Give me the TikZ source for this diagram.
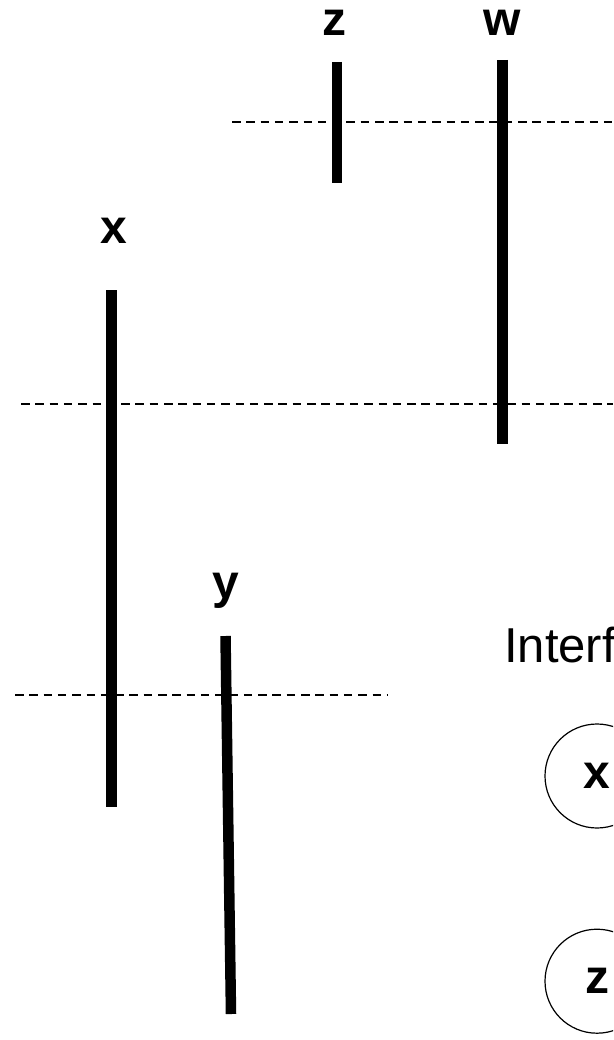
\documentclass[tikz,border=0pt]{standalone}
\usepackage{fontspec}
\setmainfont{Liberation Sans}
\usetikzlibrary{positioning}

\begin{document}
\begin{tikzpicture}[
    x=1pt,y=-1pt,
    lbl/.style={font=\fontsize{48}{58}\selectfont\bfseries,inner sep=0pt},
    bar/.style={line width=10.5pt},
    cut/.style={line width=2pt,dash pattern=on 8.5pt off 5.8pt},
    vnode/.style={circle,draw,line width=1.2pt,minimum size=104pt,
                  inner sep=0pt,font=\fontsize{48}{58}\selectfont\bfseries}]
  \useasboundingbox (0,0) rectangle (613,1040);
  \clip (0,0) rectangle (613,1040);

  % live ranges
  \node[lbl] (lblz) at (334,23) {z};
  \node[lbl] (lblw) at (502,23) {w};
  \node[lbl] (lblx) at (114,231) {x};
  \node[lbl] (lbly) at (226,591) {y};

  \coordinate (ztop) at (337,62);    \coordinate (zbot) at (337,183);
  \coordinate (wtop) at (502.5,60);  \coordinate (wbot) at (502.5,444);
  \coordinate (xtop) at (111.5,290); \coordinate (xbot) at (111.5,807);
  \coordinate (ytop) at (225.5,636); \coordinate (ybot) at (231,1014);

  \draw[bar] (ztop) -- (zbot);
  \draw[bar] (wtop) -- (wbot);
  \draw[bar] (xtop) -- (xbot);
  \draw[bar] (ytop) -- (ybot);

  % program points
  \coordinate (c1a) at (232,122); \coordinate (c1b) at (613,122);
  \coordinate (c2a) at (21,404);  \coordinate (c2b) at (613,404);
  \coordinate (c3a) at (15,695);  \coordinate (c3b) at (387,695);
  \draw[cut] (c1a) -- (c1b);
  \draw[cut] (c2a) -- (c2b);
  \draw[cut] (c3a) -- (c3b);

  % interference graph
  \node[anchor=base west,inner sep=0pt,font=\fontsize{49}{59}\selectfont]
       (title) at (504,662) {Interf};
  \node[vnode] (gx) at (597,776) {x};
  \node[vnode,below=100pt of gx] (gz) {z};
\end{tikzpicture}
\end{document}
